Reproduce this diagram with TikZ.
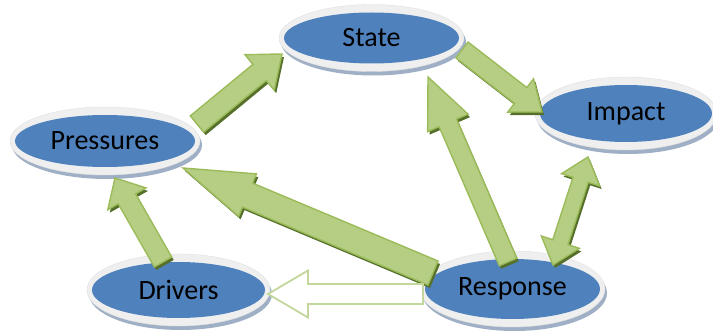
\documentclass[tikz,border=0pt]{standalone}
\usepackage{fontspec}
\setmainfont{Carlito}
\usetikzlibrary{calc,shapes.geometric}
\definecolor{discblue}{HTML}{4F81BD}
\definecolor{discrim}{HTML}{EFEFEF}
\definecolor{discshadow}{HTML}{9FB0C6}
\definecolor{arrfill}{HTML}{B6CE84}
\definecolor{arredge}{HTML}{9BBB59}
\definecolor{arrshadow}{HTML}{56702C}
\definecolor{paleedge}{HTML}{C3D69B}
\tikzset{
  discnode/.style={ellipse, fill=discblue, inner sep=0pt, text=black,
    font=\fontsize{28}{30}\selectfont},
  arrbody/.style={fill=arrfill, draw=arredge, line width=1.4pt, line join=miter},
  arrshade/.style={fill=arrshadow, transform canvas={xshift=2pt, yshift=-3pt}},
  palebody/.style={fill=white, draw=paleedge, line width=1.8pt, line join=miter},
}
% #1 name, #2 x, #3 y, #4 rx, #5 ry, #6 text
\newcommand{\disc}[6]{%
  \fill[discshadow] (#2+2,#3+4) ellipse [x radius={#4pt+5pt}, y radius={#5pt+8pt}];
  \fill[discrim, draw=black!12, line width=0.4pt] (#2,#3) ellipse [x radius={#4pt+5pt}, y radius={#5pt+8pt}];
  \node[discnode, minimum width={2*#4pt}, minimum height={2*#5pt}] (#1) at (#2,#3) {#6};
}
% single block arrow: #1 tail, #2 tip, #3 half shaft, #4 half head, #5 head length, #6 style
\newcommand{\blockarr}[6]{%
  \coordinate (hb) at ($(#2)!#5!(#1)$);
  \path[#6] ($(#1)!#3!90:(#2)$) -- ($(hb)!#3!90:(#2)$) -- ($(hb)!#4!90:(#2)$) -- (#2)
    -- ($(hb)!#4!-90:(#2)$) -- ($(hb)!#3!-90:(#2)$) -- ($(#1)!#3!-90:(#2)$) -- cycle;
}
% double block arrow between #1 and #2
\newcommand{\dblarr}[6]{%
  \coordinate (ha) at ($(#1)!#5!(#2)$);
  \coordinate (hb) at ($(#2)!#5!(#1)$);
  \path[#6] (#1) -- ($(ha)!#4!90:(#2)$) -- ($(ha)!#3!90:(#2)$) -- ($(hb)!#3!90:(#2)$)
    -- ($(hb)!#4!90:(#2)$) -- (#2) -- ($(hb)!#4!-90:(#2)$) -- ($(hb)!#3!-90:(#2)$)
    -- ($(ha)!#3!-90:(#2)$) -- ($(ha)!#4!-90:(#2)$) -- cycle;
}
\begin{document}
\begin{tikzpicture}[x=1pt,y=-1pt]
\useasboundingbox (0,0) rectangle (713,331);
\disc{state}{371.5}{38}{87.5}{25.5}{State}
\disc{pressures}{105}{141}{90}{26}{Pressures}
\disc{impact}{626}{113.5}{86}{28.5}{Impact}
\disc{drivers}{178.5}{290}{86.5}{28}{Drivers}
\disc{response}{512.5}{289}{87.5}{30}{Response}
% arrow end points
\coordinate (p2s-a) at (197,124);   \coordinate (p2s-b) at (282,54);
\coordinate (s2i-a) at (462,50);    \coordinate (s2i-b) at (542,112);
\coordinate (r2p-a) at (433,273);   \coordinate (r2p-b) at (183,168);
\coordinate (r2s-a) at (508,262);   \coordinate (r2s-b) at (428,77);
\coordinate (ri-a) at (553,265);    \coordinate (ri-b) at (588,157);
\coordinate (d2p-a) at (163,262);   \coordinate (d2p-b) at (115,178);
\coordinate (r2d-a) at (423,294);   \coordinate (r2d-b) at (268,294);
% shadows
\blockarr{p2s-a}{p2s-b}{10.5pt}{23pt}{29pt}{arrshade}
\blockarr{s2i-a}{s2i-b}{10pt}{21pt}{27pt}{arrshade}
\blockarr{r2p-a}{r2p-b}{13pt}{23pt}{70pt}{arrshade}
\blockarr{r2s-a}{r2s-b}{9.5pt}{22pt}{50pt}{arrshade}
\dblarr{ri-a}{ri-b}{8pt}{20pt}{24pt}{arrshade}
\blockarr{d2p-a}{d2p-b}{10pt}{22pt}{24pt}{arrshade}
% bodies
\blockarr{p2s-a}{p2s-b}{10.5pt}{23pt}{29pt}{arrbody}
\blockarr{s2i-a}{s2i-b}{10pt}{21pt}{27pt}{arrbody}
\blockarr{r2p-a}{r2p-b}{13pt}{23pt}{70pt}{arrbody}
\blockarr{r2s-a}{r2s-b}{9.5pt}{22pt}{50pt}{arrbody}
\dblarr{ri-a}{ri-b}{8pt}{20pt}{24pt}{arrbody}
\blockarr{d2p-a}{d2p-b}{10pt}{22pt}{24pt}{arrbody}
\blockarr{r2d-a}{r2d-b}{10pt}{23.5pt}{40pt}{palebody}
\end{tikzpicture}
\end{document}
